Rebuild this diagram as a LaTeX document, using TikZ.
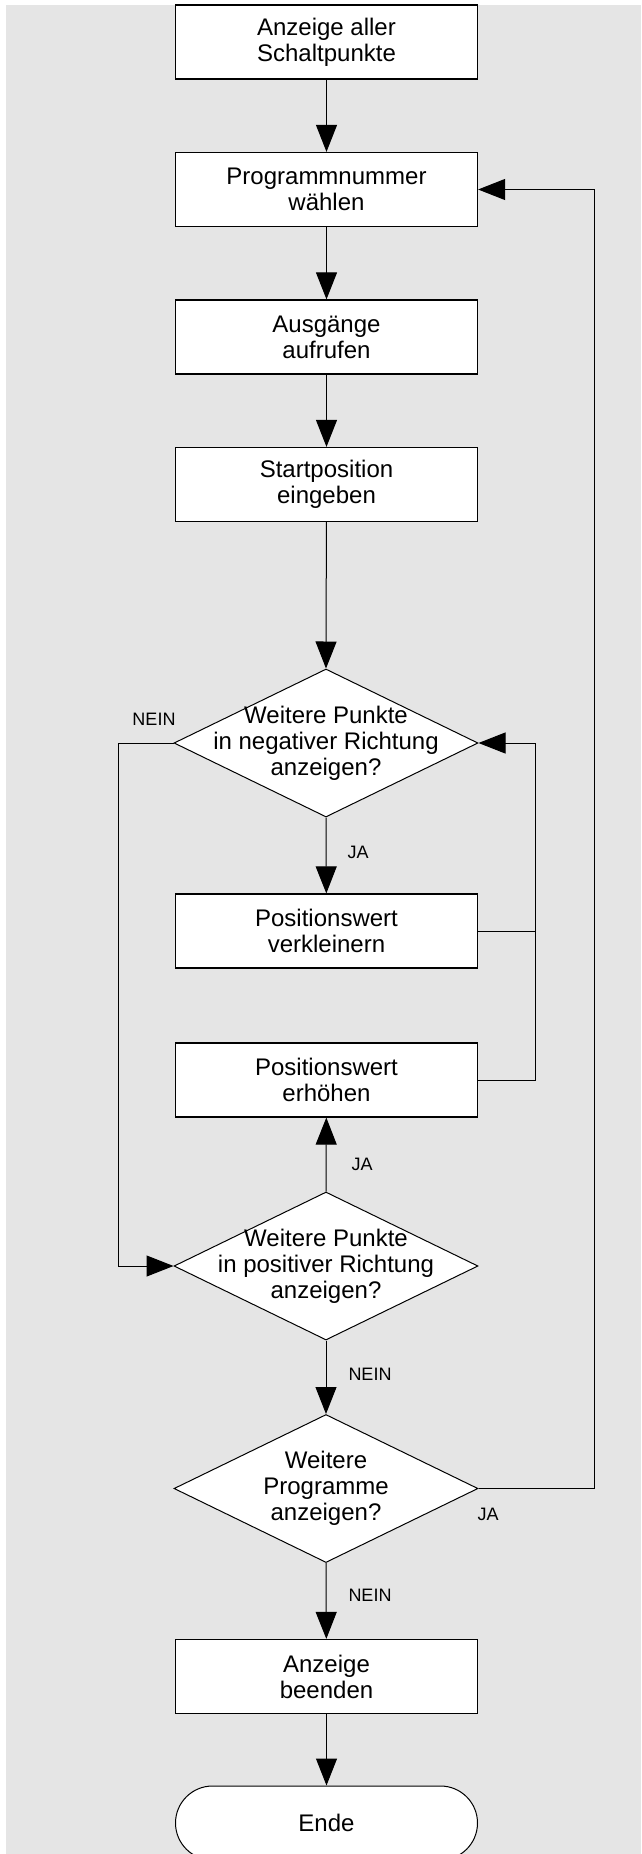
\documentclass[tikz,border=0pt]{standalone}
\usepackage{fontspec}
\setmainfont{Liberation Sans}
\usepackage{tikz}
\usetikzlibrary{positioning, arrows.meta, shapes.geometric}
\definecolor{panel}{HTML}{E5E5E5}

\begin{document}
\begin{tikzpicture}[
    x=1pt, y=-1pt,
    proc/.style={draw, fill=white, line width=1.2pt, minimum width=302pt, minimum height=74pt, inner sep=0pt, align=center, font=\fontsize{24}{26}\selectfont},
    dec/.style={draw, diamond, fill=white, line width=1pt, minimum width=304pt, minimum height=148pt, inner sep=0pt},
    dectext/.style={align=center, font=\fontsize{24}{26}\selectfont},
    term/.style={draw, fill=white, line width=1pt, rounded corners=37pt, minimum width=302pt, minimum height=74pt, inner sep=0pt, font=\fontsize{24}{26}\selectfont},
    flow/.style={line width=1pt, -{Triangle[length=27pt, width=21pt]}},
    link/.style={line width=1pt},
    lbl/.style={font=\fontsize{18}{20}\selectfont},
]
\useasboundingbox (0,0) rectangle (641,1854);
\fill[panel] (6,5) rectangle (641,1854);

\node[proc] (anz) at (326.5, 42) {Anzeige aller\\Schaltpunkte};
\node[proc] (prog) at (326.5, 189.5) {Programmnummer\\wählen};
\node[proc] (ausg) at (326.5, 337) {Ausgänge\\aufrufen};
\node[proc] (startpos) at (326.5, 484.5) {Startposition\\eingeben};
\node[dec, label={[dectext]center:{Weitere Punkte\\in negativer Richtung\\anzeigen?}}] (negq) at (326, 743) {};
\node[proc] (dec) at (326.5, 931) {Positionswert\\verkleinern};
\node[proc] (inc) at (326.5, 1080) {Positionswert\\erhöhen};
\node[dec, label={[dectext]center:{Weitere Punkte\\in positiver Richtung\\anzeigen?}}] (posq) at (326, 1266) {};
\node[dec, label={[dectext]center:{Weitere\\Programme\\anzeigen?}}] (progq) at (326, 1488.5) {};
\node[proc] (endanz) at (326.5, 1676.5) {Anzeige\\beenden};
\node[term] (ende) at (326.5, 1823) {Ende};

\coordinate (loopL) at (118, 743);
\coordinate (loopR) at (535, 743);
\coordinate (back) at (594, 1488.5);

\draw[flow] (anz) -- (prog);
\draw[flow] (prog) -- (ausg);
\draw[flow] (ausg) -- (startpos);
\draw[flow] (startpos) -- (negq.north);
\draw[flow] (negq.south) -- (dec);
\draw[link] (dec.east) -- (dec.east -| loopR);
\draw[flow] (inc.east) -| (loopR) -- (negq.east);
\draw[flow] (negq.west) -- (loopL) |- (posq.west);
\draw[flow] (posq.north) -- (inc);
\draw[flow] (posq.south) -- (progq.north);
\draw[flow] (progq.east) -- (back) |- (prog.east);
\draw[flow] (progq.south) -- (endanz);
\draw[flow] (endanz) -- (ende);

\node[lbl] (n1) at (154, 719) {NEIN};
\node[lbl] (j1) at (358, 852) {JA};
\node[lbl] (j2) at (362, 1164.5) {JA};
\node[lbl] (n2) at (370, 1374) {NEIN};
\node[lbl] (j3) at (488, 1514) {JA};
\node[lbl] (n3) at (370, 1595) {NEIN};
\end{tikzpicture}
\end{document}
